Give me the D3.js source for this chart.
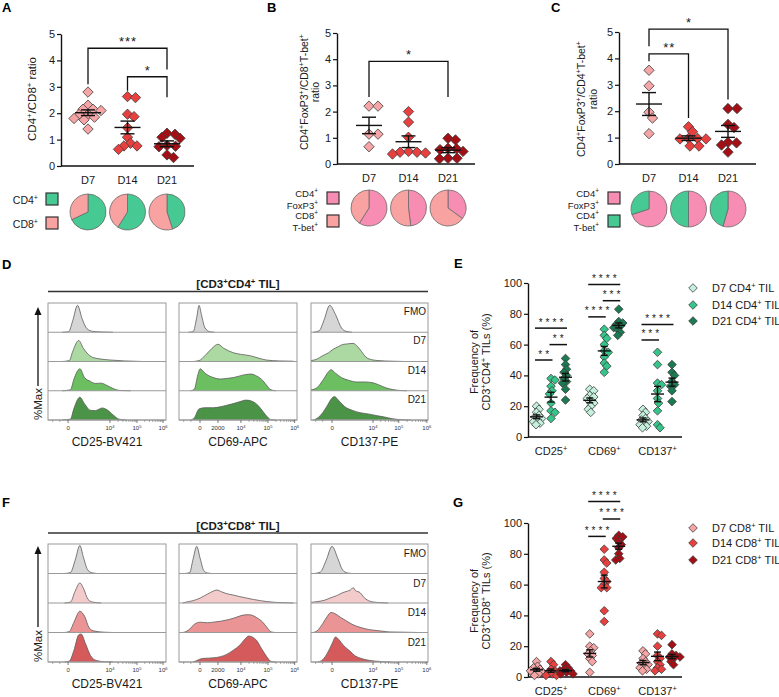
<!DOCTYPE html>
<html><head><meta charset="utf-8">
<script src="https://cdn.jsdelivr.net/npm/d3@7"></script>
<style>body{margin:0;background:#fff} svg{display:block}</style>
</head><body><svg id="c" width="779" height="697"></svg>
<script>
// ---------------- DATA ----------------
const days = ['D7','D14','D21'];
const groupsE = ['CD25+','CD69+','CD137+'];
const groupLabels = ['CD25^+','CD69^+','CD137^+'];

// Panel A-C ratios (per day)
const ratioA = [[2.8,2.3,2.15,2.1,2.15,1.95,1.95,1.85,1.75,1.8,1.4],[2.63,2.59,1.96,1.87,1.45,1.09,0.86,0.76,0.76,0.63],[1.24,1.2,1.09,1.05,0.73,0.75,0.78,0.42,0.32]];
const ratioB = [[2.21,2.21,1.14,1.14,0.66],[2.0,1.6,1.02,0.48,0.45,0.45,0.42,0.38],[0.98,0.92,0.6,0.58,0.55,0.48,0.22,0.2,0.22]];
const ratioC = [[3.55,2.96,1.96,1.74,1.15],[1.41,1.22,0.97,0.97,0.95,0.95,0.68,0.68],[2.1,2.1,1.5,1.38,0.82,0.8,0.72,0.45]];
const sigA = [{a:'D7',b:'D21',y:4.46,ya:3.1,yb:3.66,label:'***'},{a:'D14',b:'D21',y:3.38,ya:2.85,yb:2.6,label:'*'}];
const sigB = [{a:'D7',b:'D21',y:3.92,ya:2.56,yb:2.56,label:'*'}];
const sigC = [{a:'D7',b:'D21',y:5.11,ya:4.46,yb:2.44,label:'*'},{a:'D7',b:'D14',y:4.17,ya:3.89,yb:1.74,label:'**'}];
// pie fractions of first legend item (clockwise from 12 o'clock)
const pieA = [0.68,0.59,0.45];
const pieB = [0.59,0.48,0.35];
const pieC = [0.70,0.50,0.545];

// Panel E (CD4) and G (CD8) frequencies: [D7, D14, D21]
const cd4_CD25 = [[20,18,16,14,13,12,11,10,9,8],[38,37,33,30,28,22,17,16,12],[51,47,44,42,40,38,36,35,31,24]];
const cd4_CD69 = [[31,30,27,26,25,23,22,20,18,16],[70,66,64,60,56,55,52,48,46,42],[83,75,74,73,72,71,70,68,66]];
const cd4_CD137 = [[18,16,14,12,11,10,9,8,7,6],[55,47,35,34,30,25,22,17,8,6],[47,42,40,36,34,33,30,23]];
const cd8_CD25 = [[10,7,6,5,4,4,3,2,1],[10,8,5,4,3,3,2,1,1],[8,6,5,4,4,3,3,2,2]];
const cd8_CD69 = [[28,20,19,17,15,14,12,10,3],[83,76,74,68,64,62,60,58,58,43,36],[92,91,90,88,86,84,80,77,76]];
const cd8_CD137 = [[17,15,12,10,9,8,7,6,5,4],[28,27,20,14,12,10,8,6,5,4],[21,15,14,13,13,12,10,8]];
const sigE = [
 {g:'CD25+',a:'D7',b:'D21',y:70.7,label:'****'},{g:'CD25+',a:'D14',b:'D21',y:60,label:'**'},{g:'CD25+',a:'D7',b:'D14',y:50,label:'**'},
 {g:'CD69+',a:'D7',b:'D21',y:99,label:'****'},{g:'CD69+',a:'D14',b:'D21',y:88.5,label:'***'},{g:'CD69+',a:'D7',b:'D14',y:78,label:'****'},
 {g:'CD137+',a:'D7',b:'D21',y:73,label:'****'},{g:'CD137+',a:'D7',b:'D14',y:63,label:'***'}];
const sigG = [{g:'CD69+',a:'D7',b:'D21',y:114,label:'****'},{g:'CD69+',a:'D14',b:'D21',y:102.6,label:'****'},{g:'CD69+',a:'D7',b:'D14',y:91.3,label:'****'}];

// Histograms: [channel position 0-100, %Max fraction] for FMO, D7, D14, D21
const histRows = ['FMO','D7','D14','D21'];
const histD_CD25 = [
 [[12,0],[17.5,0.02],[21,0.4],[25,0.92],[29,0.45],[33,0.12],[38,0.03],[45,0.01],[55,0]],
 [[12,0],[18,0.03],[21,0.35],[26,0.72],[30,0.45],[36,0.18],[42,0.1],[53,0.05],[65,0.02],[80,0]],
 [[12,0],[19,0.03],[22,0.4],[27,0.75],[31,0.45],[36,0.32],[40,0.25],[45,0.26],[50,0.18],[55,0.08],[61,0.01],[70,0]],
 [[12,0],[19,0.03],[22,0.4],[27,0.78],[31,0.55],[36,0.33],[40,0.32],[46,0.41],[50,0.35],[55,0.18],[60,0.03],[66,0]]];
const histD_CD69 = [
 [[8,0],[12,0.02],[15,0.5],[17,0.92],[19,0.6],[22,0.15],[26,0.02],[30,0]],
 [[12,0],[17,0.03],[22,0.2],[28,0.45],[33,0.59],[38,0.45],[46,0.3],[53,0.24],[60,0.2],[67,0.12],[74,0.05],[85,0.02],[97,0.01]],
 [[10,0],[13,0.05],[16,0.55],[18,0.75],[22,0.6],[29,0.45],[35,0.4],[40,0.42],[46,0.45],[51,0.5],[56,0.55],[61,0.57],[66,0.5],[71,0.35],[75,0.15],[78,0.03],[82,0]],
 [[10,0],[13,0.08],[17,0.38],[22,0.42],[29,0.42],[35,0.45],[40,0.5],[46,0.56],[51,0.62],[57,0.68],[62,0.64],[67,0.5],[71,0.3],[75,0.1],[78,0.01],[82,0]]];
const histD_CD137 = [
 [[2,0],[7,0.05],[11,0.4],[16,0.92],[21,0.6],[26,0.15],[30,0.03],[35,0]],
 [[0,0.03],[5,0.08],[10,0.2],[15,0.3],[19,0.42],[23,0.5],[27,0.58],[31,0.6],[36,0.62],[40,0.5],[43,0.35],[47,0.15],[52,0.06],[58,0.03],[70,0.01],[80,0]],
 [[0,0.03],[5,0.1],[10,0.35],[15,0.65],[17,0.72],[21,0.6],[26,0.45],[32,0.36],[39,0.3],[46,0.3],[53,0.27],[58,0.2],[64,0.1],[70,0.04],[76,0.01],[82,0]],
 [[2,0],[6,0.08],[10,0.25],[14,0.5],[18,0.75],[20,0.8],[24,0.65],[29,0.45],[36,0.32],[42,0.25],[50,0.2],[56,0.15],[63,0.1],[70,0.04],[78,0.01],[85,0]]];
const histF_CD25 = [
 [[14,0],[19,0.03],[23,0.45],[27,0.95],[30,0.55],[34,0.1],[38,0.02],[42,0]],
 [[14,0],[19,0.03],[23,0.4],[27,0.68],[30,0.5],[34,0.12],[38,0.03],[45,0]],
 [[14,0],[18,0.03],[22,0.35],[27,0.72],[31,0.55],[35,0.15],[39,0.05],[48,0.01],[55,0]],
 [[14,0],[18,0.03],[22,0.4],[26,0.92],[28,0.95],[32,0.6],[36,0.22],[41,0.05],[48,0.01],[55,0]]];
const histF_CD69 = [
 [[5,0],[9,0.03],[12,0.5],[15,0.92],[18,0.5],[21,0.1],[24,0.02],[28,0]],
 [[3,0],[6,0.03],[12,0.08],[18,0.17],[24,0.3],[29,0.4],[32,0.44],[36,0.38],[40,0.32],[46,0.27],[51,0.22],[57,0.17],[63,0.12],[69,0.08],[74,0.05],[82,0.02],[90,0.01],[97,0]],
 [[3,0],[6,0.03],[10,0.15],[13,0.28],[18,0.35],[24,0.33],[29,0.35],[35,0.38],[40,0.42],[46,0.48],[51,0.55],[56,0.6],[60,0.6],[66,0.5],[71,0.35],[75,0.15],[78,0.02],[82,0]],
 [[12,0],[15,0.05],[20,0.12],[25,0.13],[29,0.14],[35,0.18],[40,0.25],[46,0.4],[51,0.55],[56,0.78],[59,0.88],[62,0.85],[66,0.72],[70,0.45],[74,0.2],[78,0.02],[82,0]]];
const histF_CD137 = [
 [[3,0],[8,0.05],[13,0.45],[18,0.92],[23,0.5],[27,0.12],[31,0.02],[35,0]],
 [[0,0.02],[6,0.05],[12,0.1],[17,0.18],[22,0.25],[27,0.35],[31,0.4],[34,0.45],[36,0.52],[38,0.42],[42,0.35],[45,0.2],[49,0.08],[54,0.03],[60,0.01],[66,0]],
 [[2,0],[5,0.05],[10,0.3],[14,0.55],[17,0.68],[20,0.65],[25,0.52],[30,0.4],[35,0.28],[40,0.2],[47,0.12],[53,0.08],[60,0.05],[67,0.02],[80,0.01],[92,0]],
 [[6,0],[10,0.08],[14,0.3],[18,0.62],[21,0.85],[24,0.75],[28,0.55],[33,0.38],[38,0.2],[43,0.12],[49,0.06],[55,0.03],[62,0.01],[68,0]]];
const hTicks_CD25 = [[17,'0'],[52.5,'10^4'],[75.4,'10^5'],[97.5,'10^6']];
const hTicks_CD69 = [[17.8,'0'],[33,'2000'],[52.5,'10^4'],[75.4,'10^5'],[98,'10^6']];
const hTicks_CD137 = [[18,'0'],[53,'10^4'],[75,'10^5'],[99,'10^6']];
const histTitles = ['CD25-BV421','CD69-APC','CD137-PE'];

// ---------------- HELPERS ----------------
const svg = d3.select('#c');
const FF = "Arial, 'Liberation Sans', Helvetica, sans-serif";
const dayRed = ['#f5a5a5','#e8403f','#a30f15'];
const dayGreen = ['#c4f0dd','#35c48a','#1b7a52'];
const GREEN = '#46c992', SALMON = '#f8a3a1', PINK = '#f78db2';

function rich(t, str, fs){
  const parts=[]; let buf='';
  for(let i=0;i<str.length;i++){
    if(str[i]==='^'){ if(buf)parts.push({t:buf,s:0}); buf=''; parts.push({t:str[i+1],s:1}); i++; }
    else buf+=str[i];
  }
  if(buf)parts.push({t:buf,s:0});
  let up=false;
  parts.forEach(p=>{
    const ts=t.append('tspan').text(p.t);
    if(p.s){ ts.attr('font-size',fs*0.68); if(!up){ts.attr('dy',-fs*0.38);up=true;} }
    else { ts.attr('font-size',fs); if(up){ts.attr('dy',fs*0.38);up=false;} }
  });
}
function txt(x,y,str,fs,o={}){
  const t=svg.append('text').attr('x',x).attr('y',y).attr('font-family',FF).attr('font-size',fs)
    .attr('text-anchor',o.anchor||'start').attr('fill',o.fill||'#1a1a1a');
  if(o.bold)t.attr('font-weight','bold');
  if(o.rot)t.attr('transform',`rotate(-90,${x},${y})`);
  if(o.ls!=null)t.attr('letter-spacing',o.ls);
  if(o.dx!=null)t.attr('dx',o.dx);
  rich(t,str,fs);
  return t;
}
const diamond = r => `M0,${-r}L${r},0L0,${r}L${-r},0Z`;

function swarm(vals,y,r,k,maxOff){
  const pts=vals.map(v=>({v,py:y(v)})).sort((a,b)=>a.py-b.py);
  const placed=[];
  pts.forEach(p=>{
    let best=null;
    for(let s=0;s<400;s++){
      const off=(s===0)?0:((s%2)?1:-1)*Math.ceil(s/2)*0.5;
      if(Math.abs(off)>maxOff)break;
      if(placed.every(q=>Math.abs(q.dx-off)+Math.abs(q.py-p.py)>=k*2*r)){best=off;break;}
    }
    if(best===null)best=(placed.length%2?1:-1)*maxOff*0.6;
    p.dx=best; placed.push(p);
  });
  return pts;
}
function dotGroup(g,cx,vals,y,r,fill,meanHW,capHW,k,maxOff){
  const pts=swarm(vals,y,r,k,maxOff);
  g.selectAll(null).data(pts).join('path').attr('d',diamond(r))
    .attr('transform',d=>`translate(${cx+d.dx},${d.py})`)
    .attr('fill',fill).attr('stroke','#3c3c3c').attr('stroke-width',0.8);
  const m=d3.mean(vals), se=d3.deviation(vals)/Math.sqrt(vals.length);
  const s={stroke:'#111','stroke-width':1.4};
  const ln=(x1,y1,x2,y2)=>{const l=g.append('line').attr('x1',x1).attr('y1',y1).attr('x2',x2).attr('y2',y2);Object.entries(s).forEach(([a,b])=>l.attr(a,b));};
  ln(cx-meanHW,y(m),cx+meanHW,y(m));
  ln(cx,y(m-se),cx,y(m+se));
  ln(cx-capHW,y(m-se),cx+capHW,y(m-se));
  ln(cx-capHW,y(m+se),cx+capHW,y(m+se));
}
function styleAxis(sel,fs){
  sel.select('.domain').attr('stroke','#111').attr('stroke-width',1.4);
  sel.selectAll('.tick line').attr('stroke','#111').attr('stroke-width',1.2);
  sel.selectAll('text').attr('font-family',FF).attr('font-size',fs).attr('fill','#1a1a1a');
}

// ---------------- PANELS A-C ----------------
function ratioPanel(o){
  const g=svg.append('g');
  const y=d3.scaleLinear().domain([0,5]).range([o.y0,o.y1]);
  const x=d3.scalePoint().domain(days).range([o.c0,o.c1]);
  g.append('g').attr('transform',`translate(${o.ax},0)`)
    .call(d3.axisLeft(y).tickValues([0,1,2,3,4,5]).tickFormat(d3.format('d')).tickSize(4).tickPadding(2).tickSizeOuter(0))
    .call(s=>styleAxis(s,11));
  g.append('line').attr('x1',o.ax).attr('x2',o.ax1).attr('y1',o.y0).attr('y2',o.y0).attr('stroke','#111').attr('stroke-width',1.4);
  days.forEach(d=>txt(x(d),o.y0+18,d,11,{anchor:'middle'}));
  o.data.forEach((vals,i)=>dotGroup(g,x(days[i]),vals,y,5.2,dayRed[i],13,7,0.85,18));
  o.sig.forEach(s=>{
    const xa=x(s.a),xb=x(s.b),yy=y(s.y);
    g.append('path').attr('d',`M${xa},${y(s.ya)}V${yy}H${xb}V${y(s.yb)}`).attr('fill','none').attr('stroke','#111').attr('stroke-width',1.3);
    txt((xa+xb)/2,yy-2,s.label,13,{anchor:'middle',ls:1,dx:0.5});
  });
  o.title.forEach((t,i)=>txt(o.tx[i],o.ty,t,o.tfs,{anchor:'middle',rot:true}));
  const arc=d3.arc().innerRadius(0).outerRadius(18);
  o.pie.forEach((f,i)=>{
    const arcs=d3.pie().sort(null)([f,1-f]);
    const pg=g.append('g').attr('transform',`translate(${x(days[i])},${o.pieY})`);
    pg.selectAll(null).data(arcs).join('path').attr('d',arc)
      .attr('fill',(d,j)=>o.pieColors[j]).attr('stroke','#6a6a6a').attr('stroke-width',0.8);
  });
  o.legend.forEach(l=>{
    g.append('rect').attr('x',o.sqx).attr('y',l.sy).attr('width',12).attr('height',12)
      .attr('fill',l.c).attr('stroke','#333').attr('stroke-width',1.2);
    l.lines.forEach((t,i)=>txt(o.lx,l.ly[i],t,o.lfs,{anchor:'end'}));
  });
}
ratioPanel({ax:61,ax1:194,y0:166,y1:34,c0:88,c1:167,data:ratioA,sig:sigA,
  title:['CD4^+/CD8^+ ratio'],tx:[36],ty:99,tfs:11.5,pie:pieA,pieY:212,pieColors:[GREEN,SALMON],lfs:10.5,
  sqx:46,lx:38,legend:[{c:GREEN,sy:193,lines:['CD4^+'],ly:[204]},{c:SALMON,sy:217,lines:['CD8^+'],ly:[228]}]});
ratioPanel({ax:337,ax1:475,y0:164,y1:33,c0:369,c1:448,data:ratioB,sig:sigB,
  title:['CD4^+FoxP3^+/CD8^+T-bet^+','ratio'],tx:[308,319],ty:92,tfs:10.5,pie:pieB,pieY:208,pieColors:[PINK,SALMON],lfs:9.5,
  sqx:327,lx:318,legend:[{c:PINK,sy:192,lines:['CD4^+','FoxP3^+'],ly:[197,209]},{c:SALMON,sy:215,lines:['CD8^+','T-bet^+'],ly:[219,231]}]});
ratioPanel({ax:619,ax1:756,y0:164,y1:32,c0:649,c1:728,data:ratioC,sig:sigC,
  title:['CD4^+FoxP3^+/CD4^+T-bet^+','ratio'],tx:[585,597],ty:99,tfs:10.5,pie:pieC,pieY:209,pieColors:[PINK,GREEN],lfs:9.5,
  sqx:608,lx:599,legend:[{c:PINK,sy:192,lines:['CD4^+','FoxP3^+'],ly:[197,209]},{c:GREEN,sy:215,lines:['CD4^+','T-bet^+'],ly:[219,231]}]});

// ---------------- HISTOGRAMS D / F ----------------
const panelsX=[[48,166],[179,297],[311,428]];
function histBlock(o){
  const g=svg.append('g');
  const rh=(o.bottom-o.top)/4;
  txt(238,o.titleY,o.title,11.5,{anchor:'middle',bold:true});
  g.append('line').attr('x1',48).attr('x2',428).attr('y1',o.lineY).attr('y2',o.lineY).attr('stroke','#333').attr('stroke-width',1.5);
  o.data.forEach((rowsData,pi)=>{
    const px=panelsX[pi];
    const x=d3.scaleLinear().domain([0,100]).range(px);
    rowsData.forEach((pts,ri)=>{
      const rb=o.top+rh*(ri+1);
      const y=d3.scaleLinear().domain([0,1]).range([rb,rb-rh]);
      const area=d3.area().x(d=>x(d[0])).y0(rb).y1(d=>y(d[1])).curve(d3.curveMonotoneX);
      const line=d3.line().x(d=>x(d[0])).y(d=>y(d[1])).curve(d3.curveMonotoneX);
      g.append('path').datum(pts).attr('d',area).attr('fill',o.fills[ri]);
      g.append('path').datum(pts).attr('d',line).attr('fill','none').attr('stroke','#5a5a5a').attr('stroke-width',0.8);
      g.append('line').attr('x1',px[0]).attr('x2',px[1]).attr('y1',rb).attr('y2',rb).attr('stroke','#9a9a9a').attr('stroke-width',1);
      if(pi===2) txt(px[1]-2,rb-rh+o.labOff,histRows[ri],10,{anchor:'end'});
    });
    g.append('rect').attr('x',px[0]).attr('y',o.top).attr('width',px[1]-px[0]).attr('height',o.bottom-o.top)
      .attr('fill','none').attr('stroke','#9a9a9a').attr('stroke-width',1);
    const tk=o.ticks[pi];
    const major=tk.map(t=>t[0]);
    const u4=tk.find(t=>t[1]==='10^4')[0], u5=tk.find(t=>t[1]==='10^5')[0], u6=tk.find(t=>t[1]==='10^6')[0];
    const minor=[4,10];
    [2,3,4,5,6,7,8,9].forEach(k=>{minor.push(u4+Math.log10(k)*(u5-u4));minor.push(u5+Math.log10(k)*(u6-u5));});
    minor.forEach(u=>g.append('line').attr('x1',x(u)).attr('x2',x(u)).attr('y1',o.bottom).attr('y2',o.bottom+2).attr('stroke','#777').attr('stroke-width',0.6));
    major.forEach(u=>g.append('line').attr('x1',x(u)).attr('x2',x(u)).attr('y1',o.bottom).attr('y2',o.bottom+3).attr('stroke','#555').attr('stroke-width',0.8));
    tk.forEach(t=>txt(x(t[0]),o.tickY,t[1],6,{anchor:'middle',fill:'#333'}));
    txt((px[0]+px[1])/2,o.axTitleY,histTitles[pi],12,{anchor:'middle'});
  });
  g.append('line').attr('x1',38).attr('x2',38).attr('y1',o.arrow[0]).attr('y2',o.arrow[1]+6).attr('stroke','#111').attr('stroke-width',1.3);
  g.append('path').attr('d',`M34.5,${o.arrow[1]+8}L38,${o.arrow[1]}L41.5,${o.arrow[1]+8}Z`).attr('fill','#111');
  txt(42,o.maxY,'%Max',11.5,{anchor:'middle',rot:true});
}
histBlock({top:303,bottom:420,title:'[CD3^+CD4^+ TIL]',titleY:288,lineY:291.5,
  data:[histD_CD25,histD_CD69,histD_CD137],fills:['#d6d6d6','#acd9a1','#6cbf60','#4b9347'],
  ticks:[hTicks_CD25,hTicks_CD69,hTicks_CD137],tickY:430,axTitleY:446,labOff:12,arrow:[386,307],maxY:404});
histBlock({top:544,bottom:662,title:'[CD3^+CD8^+ TIL]',titleY:530,lineY:533,
  data:[histF_CD25,histF_CD69,histF_CD137],fills:['#d6d6d6','#f4cbcb','#eb9495','#d45a5c'],
  ticks:[hTicks_CD25,hTicks_CD69,hTicks_CD137],tickY:672,axTitleY:688,labOff:13,arrow:[627,546],maxY:646});

// ---------------- PANELS E / G ----------------
function freqPanel(o){
  const g=svg.append('g');
  const y=d3.scaleLinear().domain([0,100]).range([o.y0,o.y1]);
  const x=d3.scalePoint().domain(groupsE).range([551,657.5]);
  const sub=d3.scalePoint().domain(days).range([-14.5,14.5]);
  g.append('g').attr('transform','translate(528,0)')
    .call(d3.axisLeft(y).tickValues([0,20,40,60,80,100]).tickSize(4).tickPadding(2).tickSizeOuter(0))
    .call(s=>styleAxis(s,11));
  g.append('line').attr('x1',528).attr('x2',682).attr('y1',o.y0).attr('y2',o.y0).attr('stroke','#111').attr('stroke-width',1.4);
  groupsE.forEach((gr,i)=>txt(x(gr),o.y0+18,groupLabels[i],11,{anchor:'middle'}));
  o.data.forEach((arrs,gi)=>arrs.forEach((vals,di)=>
    dotGroup(g,x(groupsE[gi])+sub(days[di]),vals,y,4.3,o.colors[di],6.5,3.5,0.6,8)));
  o.sig.forEach(s=>{
    const xa=x(s.g)+sub(s.a)-1.5, xb=x(s.g)+sub(s.b)+1.5, yy=y(s.y);
    g.append('line').attr('x1',xa).attr('x2',xb).attr('y1',yy).attr('y2',yy).attr('stroke','#111').attr('stroke-width',1.5);
    txt((xa+xb)/2,yy-2.5,s.label,10,{anchor:'middle',ls:3,dx:1.5});
  });
  txt(478,o.ty,'Frequency of',11,{anchor:'middle',rot:true});
  txt(490,o.ty,o.ytitle,11,{anchor:'middle',rot:true});
  o.legend.forEach((t,i)=>{
    g.append('path').attr('d',diamond(4.3)).attr('transform',`translate(693,${o.ly[i]})`)
      .attr('fill',o.colors[i]).attr('stroke','#3c3c3c').attr('stroke-width',0.8);
    txt(712,o.ly[i]+4,t,11);
  });
}
freqPanel({y0:437,y1:283,data:[cd4_CD25,cd4_CD69,cd4_CD137],colors:dayGreen,sig:sigE,
  ty:362,ytitle:'CD3^+CD4^+ TILs (%)',legend:['D7 CD4^+ TIL','D14 CD4^+ TIL','D21 CD4^+ TIL'],ly:[288,305,321]});
freqPanel({y0:677,y1:523,data:[cd8_CD25,cd8_CD69,cd8_CD137],colors:dayRed,sig:sigG,
  ty:601,ytitle:'CD3^+CD8^+ TILs (%)',legend:['D7 CD8^+ TIL','D14 CD8^+ TIL','D21 CD8^+ TIL'],ly:[528,543,560]});

// ---------------- PANEL LETTERS ----------------
[['A',2,12],['B',267,12],['C',551,12],['D',2,269],['E',454,268],['F',2,507],['G',453,507]]
  .forEach(([l,x,y])=>txt(x,y,l,13,{bold:true,fill:'#000'}));
</script></body></html>
